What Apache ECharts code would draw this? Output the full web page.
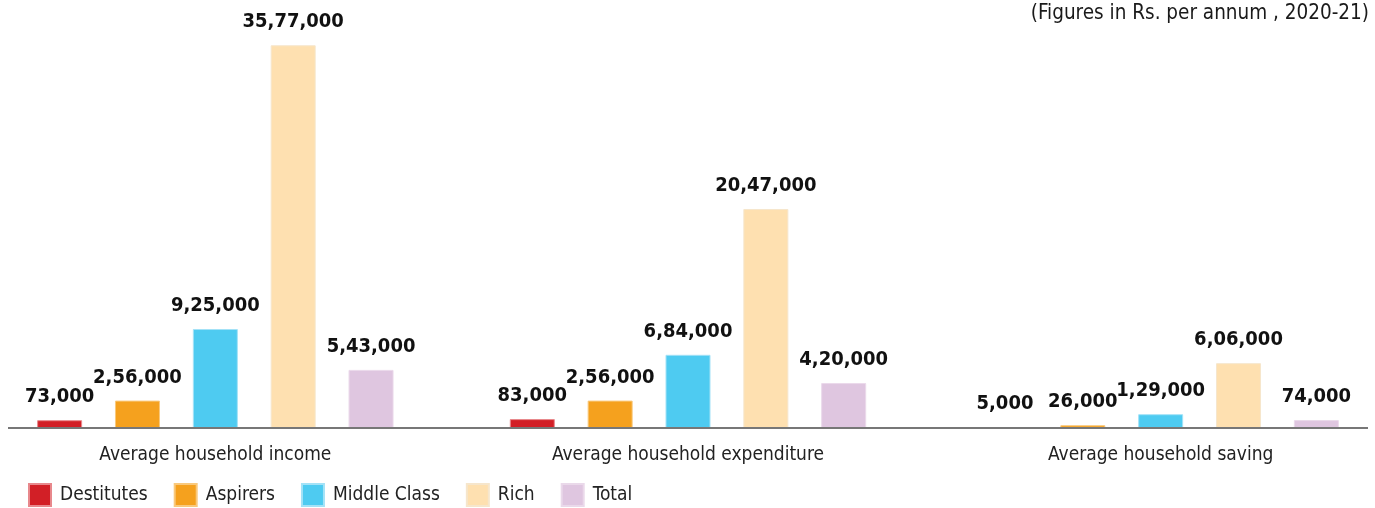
<!DOCTYPE html>
<html>
<head>
<meta charset="utf-8">
<script src="https://cdn.jsdelivr.net/npm/echarts@6/dist/echarts.min.js"></script>
<style>
  html, body { margin: 0; padding: 0; background: #fff; overflow: hidden; }
  #wrap { width: 1375px; height: 508px; overflow: hidden; position: relative; }
  /* plot area is slightly wider than the page so the outer groups sit near the edges */
  #chart { width: 1418px; height: 508px; position: absolute; left: -21px; top: 0; }
</style>
</head>
<body>
<div id="wrap"><div id="chart"></div></div>
<script>
// Household economics by income segment (Rs. per annum, 2020-21)
const categories = ['Average household income', 'Average household expenditure', 'Average household saving'];
const segments = ['Destitutes', 'Aspirers', 'Middle Class', 'Rich', 'Total'];
const destitutes = [73000, 83000, 5000];
const aspirers = [256000, 256000, 26000];
const middleClass = [925000, 684000, 129000];
const rich = [3577000, 2047000, 606000];
const total = [543000, 420000, 74000];
const noteText = '(Figures in Rs. per annum , 2020-21)';

const seriesValues = [destitutes, aspirers, middleClass, rich, total];
const colors = ['#d21f26', '#f5a11e', '#4ecbf1', '#fee0b0', '#dfc6e0'];
const borders = ['#e8888c', '#f9c97d', '#a3e2f7', '#f6e6cc', '#ead9ea'];

const FONT = '"DejaVu Sans Condensed", "Liberation Sans Narrow", "Roboto", sans-serif';

const OFFSET = 21;   // horizontal shift of the chart element
const BASE_Y = 428;

// Indian digit grouping: 35,77,000
function inr(v) {
  const s = String(Math.round(v));
  if (s.length <= 3) return s;
  const last3 = s.slice(-3);
  const rest = s.slice(0, -3).replace(/\B(?=(\d{2})+(?!\d))/g, ',');
  return rest + ',' + last3;
}

const chart = echarts.init(document.getElementById('chart'), null, { renderer: 'canvas' });

chart.setOption({
  animation: false,
  backgroundColor: '#ffffff',
  textStyle: { fontFamily: FONT },
  title: {
    text: noteText,
    right: 22 + 6,
    top: 3,
    padding: 0,
    textStyle: { fontFamily: FONT, fontSize: 20.5, fontWeight: 'normal', color: '#1a1a1a' }
  },
  legend: {
    data: segments,
    left: OFFSET + 28,
    top: 483,
    padding: 0,
    itemWidth: 22,
    itemHeight: 22,
    itemGap: 26,
    icon: 'rect',
    textStyle: { fontFamily: FONT, fontSize: 19, color: '#222', padding: [0, 0, 0, 4] }
  },
  grid: { left: 0, right: 0, top: 0, bottom: 508 - BASE_Y, containLabel: false },
  xAxis: {
    type: 'category',
    data: categories,
    axisLine: { show: false },
    axisTick: { show: false },
    axisLabel: { fontFamily: FONT, fontSize: 19, color: '#222', margin: 18 }
  },
  yAxis: {
    type: 'value',
    min: 0,
    max: 4000000,
    show: false,
    splitLine: { show: false }
  },
  series: segments.map((name, i) => ({
    name,
    type: 'bar',
    data: seriesValues[i],
    barWidth: 45,
    barGap: '73%',
    itemStyle: { color: colors[i], borderColor: borders[i], borderWidth: 1 },
    label: {
      show: true,
      position: 'top',
      distance: 13,
      formatter: p => inr(p.value),
      fontFamily: FONT,
      fontSize: 20,
      fontWeight: 'bold',
      color: '#111'
    }
  }))
});

// Baseline under the bars
const y0 = chart.convertToPixel({ yAxisIndex: 0 }, 0);
chart.setOption({
  graphic: [{
    type: 'line',
    shape: { x1: OFFSET + 8, y1: y0, x2: OFFSET + 1368, y2: y0 },
    style: { stroke: '#777', lineWidth: 2 },
    z: 10
  }]
});
</script>
</body>
</html>
